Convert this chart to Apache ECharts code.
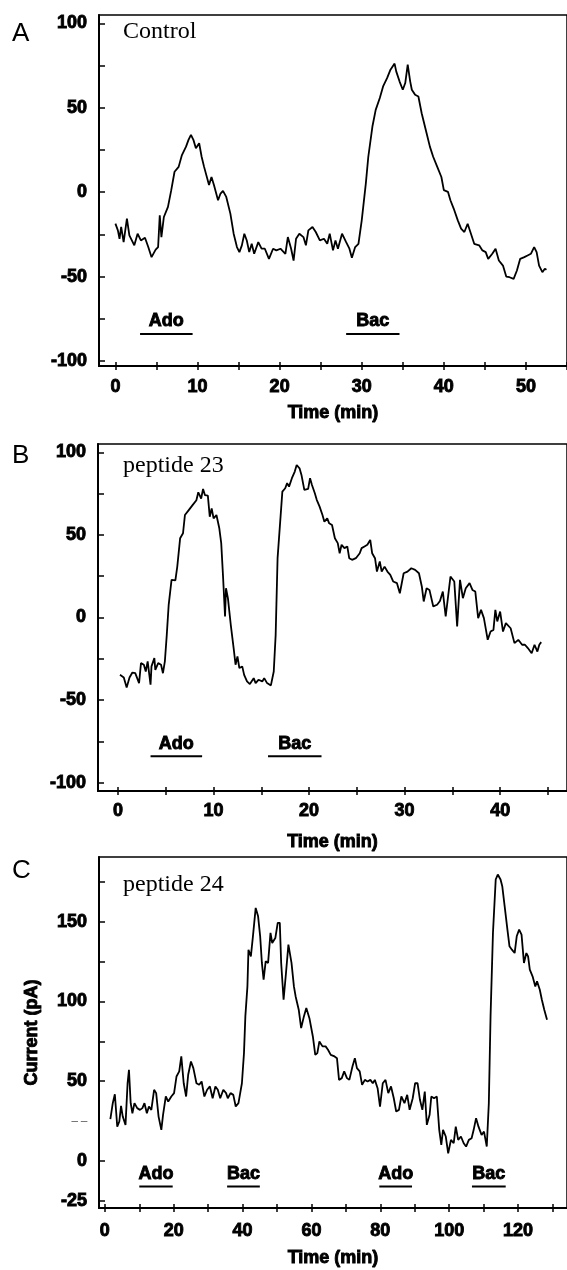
<!DOCTYPE html>
<html><head><meta charset="utf-8">
<script src="https://cdn.jsdelivr.net/npm/echarts@6/dist/echarts.min.js"></script>
<style>html,body{margin:0;padding:0;background:#fff}#c{width:567px;height:1270px}</style>
</head><body><div id="c"></div>
<script>
// ---------- Panel A : Control ----------
const timeA = [0,0.3,0.5,0.7,1.0,1.4,1.7,2.3,2.7,3.1,3.6,4.0,4.4,4.9,5.2,5.4,5.6,5.9,6.4,6.8,7.2,7.7,8.1,8.6,8.9,9.2,9.5,9.8,10.2,10.5,10.8,11.0,11.4,11.7,12.0,12.5,12.8,13.1,13.5,14.0,14.4,14.8,15.1,15.4,15.7,16.0,16.3,16.6,16.9,17.4,17.8,18.2,18.7,19.2,19.6,20.1,20.7,21.0,21.4,21.7,22.0,22.4,22.9,23.2,23.5,24.0,24.4,24.9,25.4,25.8,26.1,26.5,26.8,27.1,27.6,28.1,28.5,28.8,29.2,29.6,30.0,30.5,30.8,31.3,31.7,32.2,32.6,33.1,33.5,34.0,34.2,34.6,35.0,35.3,35.6,35.9,36.1,36.5,36.9,37.3,37.9,38.3,38.7,39.2,39.7,40.0,40.5,40.8,41.2,41.7,42.1,42.5,42.9,43.3,43.7,44.3,44.7,45.1,45.4,45.9,46.3,46.7,47.2,47.6,48.0,48.5,48.9,49.3,49.8,50.2,50.6,51.0,51.3,51.6,52.0,52.3,52.5];
const currentA = [-18.6,-22.6,-27.6,-20.6,-29.6,-15.7,-25.6,-31.5,-24.6,-28.6,-27,-32.5,-38.5,-34,-32.5,-13.7,-26.6,-14.7,-8.7,1.2,12.1,15,22,27,31,34,31,26,29,21,15,16,4.2,9,4.2,-4.8,-0.8,0.8,-2.8,-12.7,-24.6,-32.5,-35.5,-31.5,-24.6,-28.6,-35.5,-30.6,-36.5,-29.6,-33.5,-33.5,-39.5,-33.5,-34.5,-33.5,-36.5,-26.6,-33.5,-40.5,-27.6,-24.6,-26.6,-31.5,-22.6,-20.6,-23.6,-28.6,-27.6,-30.6,-24.6,-34.5,-28.6,-33.5,-24.6,-29.6,-33.5,-38.9,-32.5,-30.6,-16.7,5.2,21,38.9,48.8,55.8,62.7,67.7,72.6,76.2,71.6,65.7,60.7,64.7,75.6,65.7,60.7,57.7,56.7,46.8,34.9,27,21,15,9,1.2,0.2,-4.8,-9.7,-16.7,-21.6,-23.6,-18.7,-24.6,-30.6,-31.5,-34.5,-35.5,-39.5,-36.5,-33.5,-40.5,-43.5,-50,-50.4,-51.4,-46.4,-39.5,-38.5,-37.5,-36.5,-32.5,-35.5,-43.5,-47.4,-45.4,-46];
const drugNamesA = ['Ado','Bac'];
const drugStartA = [3.0, 28.1];
const drugEndA = [9.4, 34.6];
const drugLevelA = -84;

// ---------- Panel B : peptide 23 ----------
const timeB = [0.2,0.6,0.9,1.2,1.5,1.8,2.0,2.2,2.4,2.7,2.9,3.1,3.4,3.5,3.8,3.9,4.2,4.5,4.7,4.9,5.1,5.3,5.6,6.0,6.2,6.5,6.8,7.0,7.4,7.8,8.2,8.4,8.7,8.9,9.1,9.4,9.6,9.8,10.0,10.3,10.6,10.8,11.0,11.2,11.3,11.5,11.8,12.1,12.3,12.5,12.7,13.0,13.2,13.5,13.8,14.2,14.4,14.7,15.1,15.3,15.6,16.0,16.3,16.5,16.7,17.2,17.5,17.7,17.9,18.2,18.5,18.7,19.0,19.2,19.5,19.9,20.1,20.3,20.6,20.8,21.1,21.4,21.6,21.9,22.1,22.4,22.7,23.0,23.2,23.4,23.7,24.0,24.2,24.5,24.9,25.3,25.5,25.8,26.1,26.4,26.6,26.9,27.1,27.4,27.6,27.9,28.2,28.5,28.8,29.2,29.5,29.9,30.3,30.7,31.1,31.5,31.8,32.0,32.3,32.6,33.0,33.4,33.7,34.0,34.3,34.5,34.8,35.2,35.5,35.8,36.1,36.4,36.8,37.1,37.4,37.7,38.0,38.3,38.7,39.0,39.3,39.5,39.7,40.0,40.3,40.6,40.8,41.1,41.5,41.9,42.3,42.6,42.9,43.3,43.6,43.9,44.1,44.3];
const currentB = [-34.7,-36.3,-42.3,-36.3,-33.3,-33.7,-33,-39.7,-27.6,-28.6,-32.7,-26.6,-40.7,-29.6,-24.6,-31.7,-27.6,-28.6,-33.7,-26.6,-10.5,7.7,22.8,22.4,30.8,48,51,62,65,68,71,75.8,72,77.8,74,73.8,61,66,60,62,54,45,23.8,0.6,17.7,11.7,-4.4,-18.5,-28.6,-23.6,-30.6,-29.6,-34.7,-38.7,-40.3,-36.7,-39.7,-37.7,-38.7,-36.7,-39.7,-41.1,-32.7,-10.5,35.9,76.2,78.2,81.3,79.2,84.3,88.3,92.3,90.3,86.3,77.2,77.8,84.3,80.2,75.2,71.2,67.1,62,58,60,57,56,48,45,38.9,44,42,43,35.9,34.9,35.9,38.9,42,43,44,47,38.9,35.9,27.8,33.9,27.8,30.8,27.8,25.8,21.8,20.8,14.7,26.8,27.8,29.8,28.8,26.8,18.8,9.7,17.7,16.7,6.7,7.7,10,15.7,0.6,1.6,24.8,21.8,-5.4,22.8,11.7,17.7,20.8,16.7,15.7,-0.4,4.6,-0.4,-13.5,-8.5,-7.5,4.6,-2.4,3.6,-8.5,-3.4,-3.4,-6.5,-15.5,-13.5,-16.5,-16.5,-18.5,-21.6,-16.5,-20.6,-16.5,-14.9];
const drugNamesB = ['Ado','Bac'];
const drugStartB = [3.4, 15.7];
const drugEndB = [8.8, 21.3];
const drugLevelB = -84;

// ---------- Panel C : peptide 24 ----------
const timeC = [1.6,2.3,2.9,3.6,4.2,4.7,5.2,6.0,6.6,7.0,7.5,8.0,8.6,9.4,10.2,10.9,11.5,12.2,12.8,13.5,14.3,14.9,15.6,16.4,16.9,17.7,18.4,19.3,20.1,20.8,21.6,22.2,22.9,23.6,24.2,25.0,25.7,26.6,27.4,28.1,28.9,29.7,30.5,31.3,32.1,32.8,33.5,34.4,35.2,35.7,36.5,37.3,38.0,38.8,39.3,39.8,40.4,40.8,41.4,41.7,42.4,43.0,43.8,44.5,45.1,45.6,46.1,46.7,47.4,48.1,48.6,49.5,50.2,50.8,51.2,51.9,52.6,53.3,54.2,54.9,55.4,56.3,57.0,57.8,58.5,59.4,59.9,60.4,61.1,61.7,62.3,63.2,64.1,64.8,65.6,66.7,67.4,68.0,68.8,69.5,70.3,71.0,71.9,72.6,73.2,74.0,74.7,75.5,76.3,77.1,77.8,78.4,79.2,79.9,80.7,81.5,82.3,83.1,83.9,84.6,85.4,86.1,87.0,87.8,88.5,89.4,90.1,90.8,91.5,92.2,92.9,93.5,94.3,94.8,95.6,96.4,97.1,97.7,98.2,99.0,99.7,100.5,101.3,101.9,102.6,103.4,104.2,104.9,105.7,106.5,107.1,107.8,108.5,109.4,110.1,110.9,111.5,112.0,112.7,113.5,114.1,114.9,115.4,116.1,116.9,117.5,118.2,119.0,119.6,120.3,121.0,121.7,122.4,122.9,123.4,124.2,125.0,125.5,126.3,126.9,127.6,128.4];
const currentC = [26.2,36.2,41.8,21.5,24.7,34.5,27.8,22.6,48.7,57.1,36.2,29.9,36.2,33.1,32,33.1,36.2,29.9,34.1,32,44.6,42.5,27.8,19.5,28.9,40.4,37.2,40.4,42.5,52.9,56.1,65.5,48.7,40.4,54,62.3,58.2,48.7,47.7,49.8,40.4,44.6,46.7,39.3,46.7,44.6,39.3,44.6,42.5,39.3,42.5,41.4,34.1,36.2,42.5,48.7,67.6,90.6,109.4,132.4,128.2,140.8,158.6,153.3,140.8,124.1,113.6,125.1,124.1,142.9,136.6,139.7,149.2,149.2,124.1,101,117.8,135.6,124.1,109.4,103.1,94.8,83.3,90.6,95.8,89.5,88.5,78,66.5,67.6,74.9,71.8,71.8,69.7,66.5,65.5,64.4,50.8,51.9,56.1,51.9,50.8,59.2,64.4,58.2,56.1,47.7,50.8,49.8,50.8,48.7,50.8,45.6,34.1,48.7,50.8,42.5,46.7,39.3,31,32,40.4,36.2,41.4,32,39.3,48.7,48.7,38.3,32,43.5,22.6,28.9,40.4,39.3,40.4,19.5,10,19.5,15.3,4.8,13.2,11.1,21.5,13.2,15.3,11.1,9,13.2,14.2,19.5,26.8,21.5,16.3,18.4,9,36.2,90.6,142.9,176.4,179.5,176.4,172.2,159.6,145,134.5,132.4,130.3,140.8,145,141.8,124.1,130.3,128.2,119.9,115.7,109.4,112.6,107.3,101,94.8,88.5];
const drugNamesC = ['Ado','Bac','Ado','Bac'];
const drugStartC = [10.0, 35.5, 79.7, 106.6];
const drugEndC = [19.7, 45.0, 89.2, 116.4];
const drugLevelC = -16;

// ---------- Tick values ----------
const xLabelsA = [0,10,20,30,40,50];
const xTicksA = [0,5,10,15,20,25,30,35,40,45,50,55];
const xLabelsB = [0,10,20,30,40];
const xTicksB = [0,5,10,15,20,25,30,35,40,45];
const xLabelsC = [0,20,40,60,80,100,120];
const xTicksC = [0,10,20,30,40,50,60,70,80,90,100,110,120,130];
const yLabelsAB = [-100,-50,0,50,100];
const yTicksAB = [-100,-75,-50,-25,0,25,50,75,100];
const yLabelsC = [-25,0,25,50,100,150];
const yTicksC = [-25,0,50,75,100,125,150,175];

const heavy = {fontFamily:'Liberation Sans', fontWeight:'bold', fontSize:18, color:'#000', opacity:1, textBorderColor:'#000', textBorderWidth:0.9};

const panels = [
  {grid:{left:99, top:15, width:474, height:351}, xmin:-2, xmax:55, ymin:-103, ymax:105,
   xl:xLabelsA, xt:xTicksA, yl:yLabelsAB, yt:yTicksAB, t:timeA, v:currentA,
   dn:drugNamesA, ds:drugStartA, de:drugEndA, dl:drugLevelA, yname:'', lm:12, ng:38},
  {grid:{left:98, top:444, width:476, height:347}, xmin:-2.1, xmax:47, ymin:-105, ymax:105,
   xl:xLabelsB, xt:xTicksB, yl:yLabelsAB, yt:yTicksAB, t:timeB, v:currentB,
   dn:drugNamesB, ds:drugStartB, de:drugEndB, dl:drugLevelB, yname:'', lm:11, ng:42},
  {grid:{left:99, top:857, width:473, height:351}, xmin:-1.7, xmax:134.2, ymin:-29.5, ymax:190.5,
   xl:xLabelsC, xt:xTicksC, yl:yLabelsC, yt:yTicksC, t:timeC, v:currentC,
   dn:drugNamesC, ds:drugStartC, de:drugEndC, dl:drugLevelC, yname:'Current (pA)', lm:14, ng:41}
];

const grids = [], xAxes = [], yAxes = [], series = [];
panels.forEach((p, i) => {
  grids.push(Object.assign({show:true, borderColor:'#000', borderWidth:1.5, backgroundColor:'#fff'}, p.grid));
  xAxes.push({type:'value', gridIndex:i, min:p.xmin, max:p.xmax, position:'bottom',
    name:'Time (min)', nameLocation:'middle', nameGap:p.ng, nameTextStyle:heavy,
    axisLine:{show:true, onZero:false, lineStyle:{color:'#000', width:2}},
    axisTick:{show:true, inside:true, length:4, customValues:p.xt, lineStyle:{color:'#000', width:1.5}},
    axisLabel:Object.assign({show:true, margin:p.lm, customValues:p.xl}, heavy),
    splitLine:{show:false}});
  xAxes.push({type:'value', gridIndex:i, min:p.xmin, max:p.xmax, position:'bottom',
    axisLine:{show:false, onZero:false},
    axisTick:{show:true, inside:false, length:4, customValues:p.xt, lineStyle:{color:'#000', width:1.5}},
    axisLabel:{show:false}, splitLine:{show:false}});
  yAxes.push({type:'value', gridIndex:i, min:p.ymin, max:p.ymax,
    name:p.yname, nameLocation:'middle', nameGap:58, nameTextStyle:heavy,
    axisLine:{show:true, onZero:false, lineStyle:{color:'#000', width:2}},
    axisTick:{show:true, inside:true, length:6, customValues:p.yt, lineStyle:{color:'#000', width:1.5}},
    axisLabel:Object.assign({show:true, margin:12, customValues:p.yl,
      formatter: v => (i === 2 && v === 25) ? '{g|– –}' : String(v),
      rich:{g:{color:'#666', fontSize:11, fontWeight:'normal', textBorderColor:'#666', textBorderWidth:0.3}}}, heavy),
    splitLine:{show:false}});
  series.push({type:'line', xAxisIndex:2*i, yAxisIndex:i, showSymbol:false, symbol:'none',
    data:p.t.map((t, k) => [t, p.v[k]]), lineStyle:{color:'#000', width:1.8}, silent:true, animation:false});
  p.dn.forEach((name, k) => {
    series.push({type:'line', xAxisIndex:2*i, yAxisIndex:i, symbol:'none', silent:true, animation:false,
      data:[[p.ds[k], p.dl], [p.de[k], p.dl]], lineStyle:{color:'#000', width:2}});
  });
  series.push({type:'scatter', xAxisIndex:2*i, yAxisIndex:i, symbolSize:1, silent:true, animation:false,
    itemStyle:{color:'#000', opacity:0},
    data:p.dn.map((name, k) => [(p.ds[k] + p.de[k]) / 2, p.dl, name]),
    label:Object.assign({show:true, position:'top', distance:3, formatter: q => q.data[2]}, heavy, {opacity:1})});
});

const chart = echarts.init(document.getElementById('c'), null, {renderer:'canvas'});
chart.setOption({
  backgroundColor:'#fff',
  animation:false,
  grid:grids, xAxis:xAxes, yAxis:yAxes, series:series,
  graphic:[
    {type:'text', left:12, top:21, style:{text:'A', font:'26px "Liberation Sans"', fill:'#000'}},
    {type:'text', left:12, top:443, style:{text:'B', font:'26px "Liberation Sans"', fill:'#000'}},
    {type:'text', left:12, top:858, style:{text:'C', font:'26px "Liberation Sans"', fill:'#000'}},
    {type:'text', left:123, top:20, style:{text:'Control', font:'24px "Liberation Serif"', fill:'#000'}},
    {type:'text', left:123, top:454, style:{text:'peptide 23', font:'24px "Liberation Serif"', fill:'#000'}},
    {type:'text', left:123, top:873, style:{text:'peptide 24', font:'24px "Liberation Serif"', fill:'#000'}}
  ]
});
</script></body></html>
